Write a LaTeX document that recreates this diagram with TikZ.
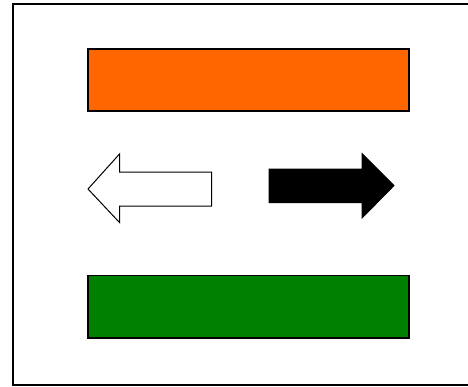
\documentclass[tikz,border=0pt]{standalone}
\begin{document}
\begin{tikzpicture}[x=1pt,y=-1pt,
  bar/.style={draw=black,line width=1.5pt,inner sep=0pt,minimum width=321pt,minimum height=62pt},
  arrowshape/.style={draw=black,line width=1pt,line join=miter}]
\definecolor{barorange}{HTML}{FF6600}
\definecolor{bargreen}{HTML}{008000}
\useasboundingbox (0,0) rectangle (468,386);
\clip (0,0) rectangle (468,386);
\draw[line width=2pt] (13,4) rectangle (490,384.7);
\node[bar,fill=barorange] (orange) at (248.5,80) {};
\node[bar,fill=bargreen,minimum height=62.5pt] (green) at (248.5,306.75) {};
\filldraw[arrowshape,fill=white] (88,189) -- (119.5,154) -- (119.5,172) -- (211.5,172) -- (211.5,206) -- (119.5,206) -- (119.5,222.5) -- cycle;
\filldraw[arrowshape,fill=black] (269,169) -- (362,169) -- (362,153.5) -- (394,185.5) -- (362,218) -- (362,202.5) -- (269,202.5) -- cycle;
\end{tikzpicture}
\end{document}
